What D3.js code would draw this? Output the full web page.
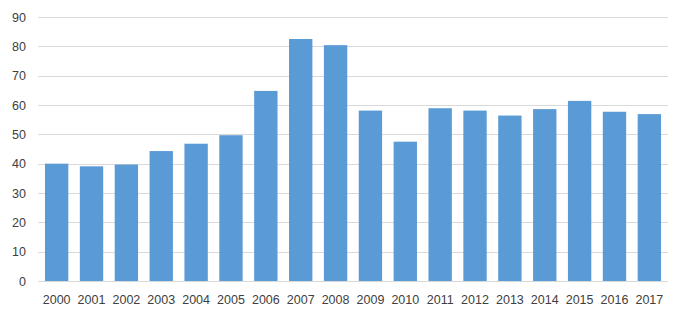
<!DOCTYPE html>
<html>
<head>
<meta charset="utf-8">
<script src="https://cdn.jsdelivr.net/npm/d3@7"></script>
<style>
  body { margin: 0; background: #fff; }
  text { font-family: "Liberation Sans", Arial, sans-serif; }
</style>
</head>
<body>
<svg id="chart" width="685" height="319"></svg>
<script>
const years = ['2000','2001','2002','2003','2004','2005','2006','2007','2008',
  '2009','2010','2011','2012','2013','2014','2015','2016','2017'];
const values = [40.0, 39.1, 39.7, 44.3, 46.8, 49.7, 64.8, 82.5, 80.4,
  58.1, 47.5, 58.9, 58.1, 56.4, 58.6, 61.4, 57.7, 56.9];
const yTicks = [0, 10, 20, 30, 40, 50, 60, 70, 80, 90];

const margin = { top: 17, right: 17, bottom: 38, left: 38 };
const width = 685, height = 319;

const svg = d3.select('#chart');

const x = d3.scaleBand()
  .domain(years)
  .range([margin.left, width - margin.right])
  .paddingInner(0.33)
  .paddingOuter(0.2);

const y = d3.scaleLinear()
  .domain([0, 90])
  .range([height - margin.bottom, margin.top]);

// grid lines
svg.append('g')
  .selectAll('line')
  .data(yTicks)
  .enter()
  .append('line')
  .attr('x1', margin.left)
  .attr('x2', width - margin.right)
  .attr('y1', d => Math.round(y(d)) + 0.5)
  .attr('y2', d => Math.round(y(d)) + 0.5)
  .attr('stroke', '#d9d9d9')
  .attr('stroke-width', 1);

// bars
svg.append('g')
  .selectAll('rect')
  .data(values)
  .enter()
  .append('rect')
  .attr('x', (d, i) => x(years[i]))
  .attr('y', d => y(d))
  .attr('width', x.bandwidth())
  .attr('height', d => y(0) - y(d))
  .attr('fill', '#5b9bd5');

// y axis labels
const yAxis = d3.axisLeft(y).tickValues(yTicks).tickSize(0).tickPadding(12);
svg.append('g')
  .attr('transform', `translate(${margin.left},0)`)
  .call(yAxis)
  .call(g => g.select('.domain').remove())
  .selectAll('text')
  .style('font-size', '12.5px')
  .style('font-family', '"Liberation Sans", Arial, sans-serif')
  .attr('fill', '#404040');

// x axis labels
const xAxis = d3.axisBottom(x).tickSize(0).tickPadding(14);
svg.append('g')
  .attr('transform', `translate(0,${y(0)})`)
  .call(xAxis)
  .call(g => g.select('.domain').remove())
  .selectAll('text')
  .style('font-size', '12.5px')
  .style('font-family', '"Liberation Sans", Arial, sans-serif')
  .attr('fill', '#404040');
</script>
</body>
</html>
